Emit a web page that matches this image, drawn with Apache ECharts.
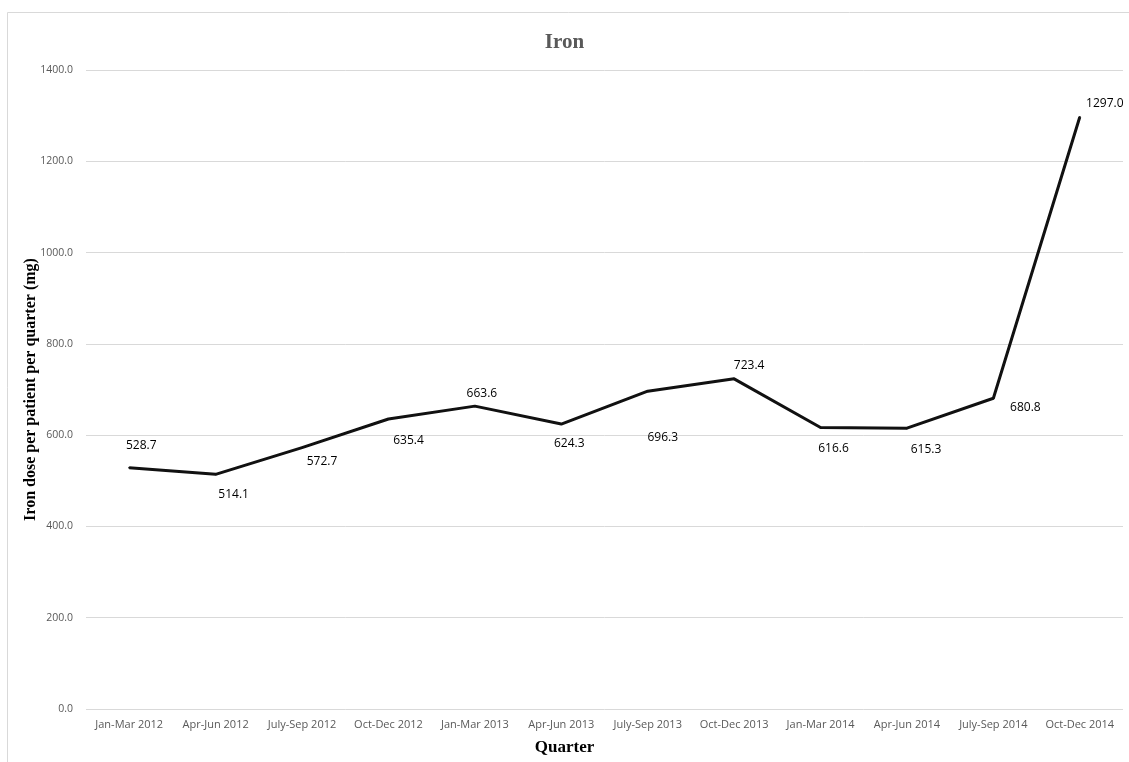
<!DOCTYPE html>
<html>
<head>
<meta charset="utf-8">
<script src="https://cdn.jsdelivr.net/npm/echarts@6/dist/echarts.min.js"></script>
<style>html,body{margin:0;padding:0;background:#fff;}#c{width:1129px;height:762px;}</style>
</head>
<body>
<div id="c"></div>
<script>
const categories = ['Jan-Mar 2012','Apr-Jun 2012','July-Sep 2012','Oct-Dec 2012','Jan-Mar 2013','Apr-Jun 2013','July-Sep 2013','Oct-Dec 2013','Jan-Mar 2014','Apr-Jun 2014','July-Sep 2014','Oct-Dec 2014'];
const ironDose = [528.7, 514.1, 572.7, 635.4, 663.6, 624.3, 696.3, 723.4, 616.6, 615.3, 680.8, 1297.0];
const yTicks = [0, 200, 400, 600, 800, 1000, 1200, 1400];

// label placement (style config, separate from data)
const labelOffsets = [[12,-22],[18,20],[20,14],[20,22],[7,-13],[8,20],[15,46],[15,-13],[13,21],[19,21],[32,9],[25,-13]];

const chart = echarts.init(document.getElementById('c'));
chart.setOption({
  animation: false,
  backgroundColor: '#fff',
  graphic: [{type:'rect', shape:{x:7.5,y:12.5,width:1200,height:800}, style:{fill:'none', stroke:'#d9d9d9', lineWidth:1}, z:-1}],
  title: [
    {text:'Iron', left:'center', top:27, textStyle:{fontFamily:'Liberation Serif', fontWeight:'bold', fontSize:21, color:'#595959'}},
    {text:'Quarter', left:'center', top:734, textStyle:{fontFamily:'Liberation Serif', fontWeight:'bold', fontSize:17, color:'#000'}}
  ],
  grid: {left:86, right:6, top:70, bottom:53, outerBoundsMode:'none', containLabel:false},
  xAxis: {
    type:'category', data:categories, boundaryGap:true,
    axisLine:{show:false}, axisTick:{show:false},
    axisLabel:{fontFamily:'Open Sans', fontSize:11, color:'#595959', margin:10, interval:0}
  },
  yAxis: {
    type:'value', min:yTicks[0], max:yTicks[yTicks.length-1], interval:200,
    name:'Iron dose per patient per quarter (mg)', nameLocation:'middle', nameGap:47, nameMoveOverlap:false,
    nameTextStyle:{fontFamily:'Liberation Serif', fontWeight:'bold', fontSize:16, color:'#000'},
    axisLine:{show:false}, axisTick:{show:false},
    splitLine:{lineStyle:{color:'#d9d9d9', width:1}},
    axisLabel:{fontFamily:'Open Sans', fontSize:10.5, color:'#595959', margin:13, formatter:v=>v.toFixed(1)}
  },
  series: [{
    type:'line', data:ironDose.map((v,i)=>({value:v, label:{offset:labelOffsets[i]}})),
    showSymbol:true, symbol:'circle', symbolSize:2,
    itemStyle:{color:'#111'},
    lineStyle:{color:'#111', width:3},
    label:{show:true, position:'inside', fontFamily:'Open Sans', fontSize:12, color:'#000', formatter:p=>p.value.toFixed(1)}
  }]
});
</script>
</body>
</html>
